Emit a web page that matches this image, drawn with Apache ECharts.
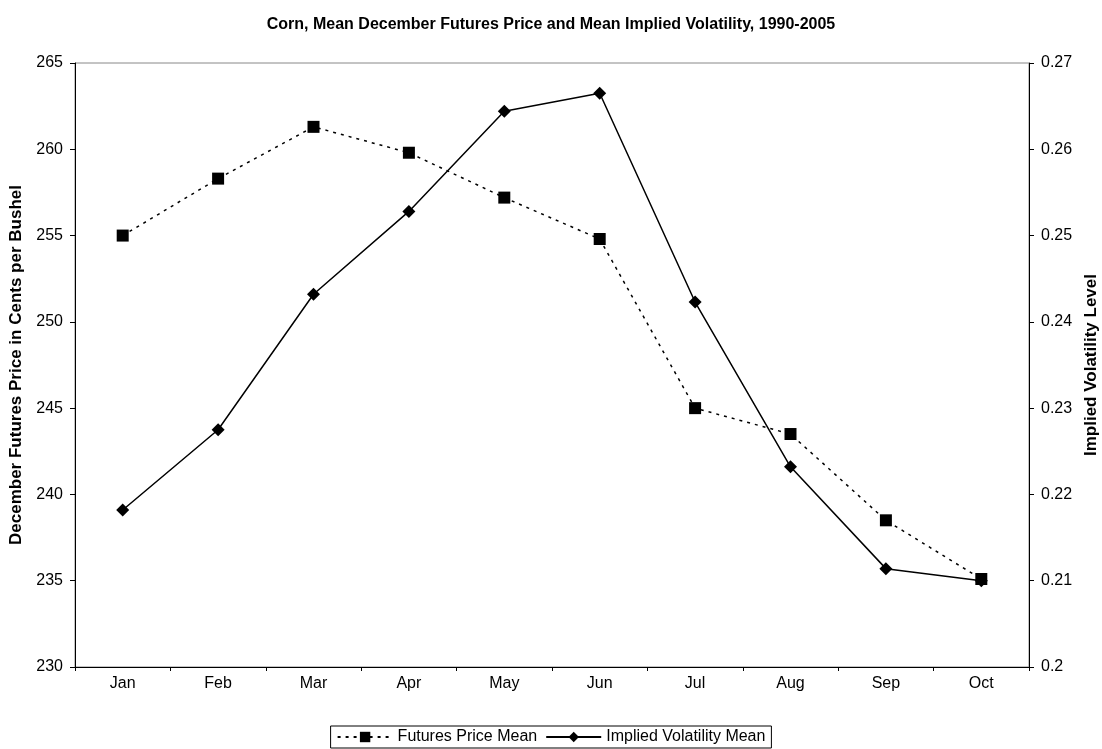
<!DOCTYPE html>
<html>
<head>
<meta charset="utf-8">
<script src="https://cdn.jsdelivr.net/npm/echarts@6/dist/echarts.min.js"></script>
<style>
  html, body { margin: 0; padding: 0; background: #fff; }
  #chartmain { width: 1102px; height: 749px; }
</style>
</head>
<body>
<div id="chartmain"></div>
<script>
// 数据
var months = ['Jan', 'Feb', 'Mar', 'Apr', 'May', 'Jun', 'Jul', 'Aug', 'Sep', 'Oct'];
var futuresPrice = [255.0, 258.3, 261.3, 259.8, 257.2, 254.8, 245.0, 243.5, 238.5, 235.1];
var impliedVol = [0.2182, 0.2275, 0.2432, 0.2528, 0.2644, 0.2665, 0.2423, 0.2232, 0.2114, 0.2100];

var fontName = '"Liberation Sans", Arial, sans-serif';

var myChart = echarts.init(document.getElementById('chartmain'));

var option = {
    animation: false,
    backgroundColor: '#fff',
    textStyle: { fontFamily: fontName, color: '#000' },
    title: {
        text: 'Corn, Mean December Futures Price and Mean Implied Volatility, 1990-2005',
        left: 'center',
        top: 12,
        textStyle: { fontSize: 16, fontWeight: 'bold', color: '#000', fontFamily: fontName }
    },
    legend: {
        bottom: 1,
        left: 'center',
        borderColor: '#000',
        borderWidth: 1,
        padding: [3, 6],
        itemGap: 8,
        itemWidth: 55,
        itemHeight: 13,
        textStyle: { fontSize: 16, color: '#000', fontFamily: fontName },
        data: ['Futures Price Mean', 'Implied Volatility Mean']
    },
    grid: {
        left: 75,
        right: 73,
        top: 63,
        bottom: 82,
        containLabel: false,
        outerBoundsMode: 'none',
        show: true,
        borderColor: '#888',
        borderWidth: 1
    },
    xAxis: {
        type: 'category',
        data: months,
        boundaryGap: true,
        axisLine: { lineStyle: { color: '#000', width: 1 } },
        axisTick: { show: true, length: 4, lineStyle: { color: '#000' } },
        axisLabel: { fontSize: 16, color: '#000', margin: 9 },
        splitLine: { show: false }
    },
    yAxis: [
        {
            type: 'value',
            min: 230,
            max: 265,
            interval: 5,
            name: 'December Futures Price in Cents per Bushel',
            nameLocation: 'middle',
            nameRotate: 90,
            nameGap: 50,
            nameTextStyle: { fontSize: 17, fontWeight: 'bold', color: '#000' },
            axisLine: { show: true, lineStyle: { color: '#000' } },
            axisTick: { show: true, length: 5, lineStyle: { color: '#000' } },
            axisLabel: { fontSize: 16, color: '#000', margin: 12 },
            splitLine: { show: false }
        },
        {
            type: 'value',
            min: 0.2,
            max: 0.27,
            interval: 0.01,
            position: 'right',
            name: 'Implied Volatility Level',
            nameLocation: 'middle',
            nameRotate: 90,
            nameGap: 54,
            nameTextStyle: { fontSize: 17, fontWeight: 'bold', color: '#000' },
            axisLine: { show: true, lineStyle: { color: '#000' } },
            axisTick: { show: true, length: 5, lineStyle: { color: '#000' } },
            axisLabel: { fontSize: 16, color: '#000', margin: 12 },
            splitLine: { show: false }
        }
    ],
    series: [
        {
            name: 'Futures Price Mean',
            type: 'line',
            yAxisIndex: 0,
            data: futuresPrice,
            symbol: 'rect',
            symbolSize: 12,
            itemStyle: { color: '#000' },
            lineStyle: { color: '#000', width: 1.5, type: [3, 5] }
        },
        {
            name: 'Implied Volatility Mean',
            type: 'line',
            yAxisIndex: 1,
            data: impliedVol,
            symbol: 'diamond',
            symbolSize: 13,
            itemStyle: { color: '#000' },
            lineStyle: { color: '#000', width: 1.5, type: 'solid' }
        }
    ]
};

myChart.setOption(option);
</script>
</body>
</html>
